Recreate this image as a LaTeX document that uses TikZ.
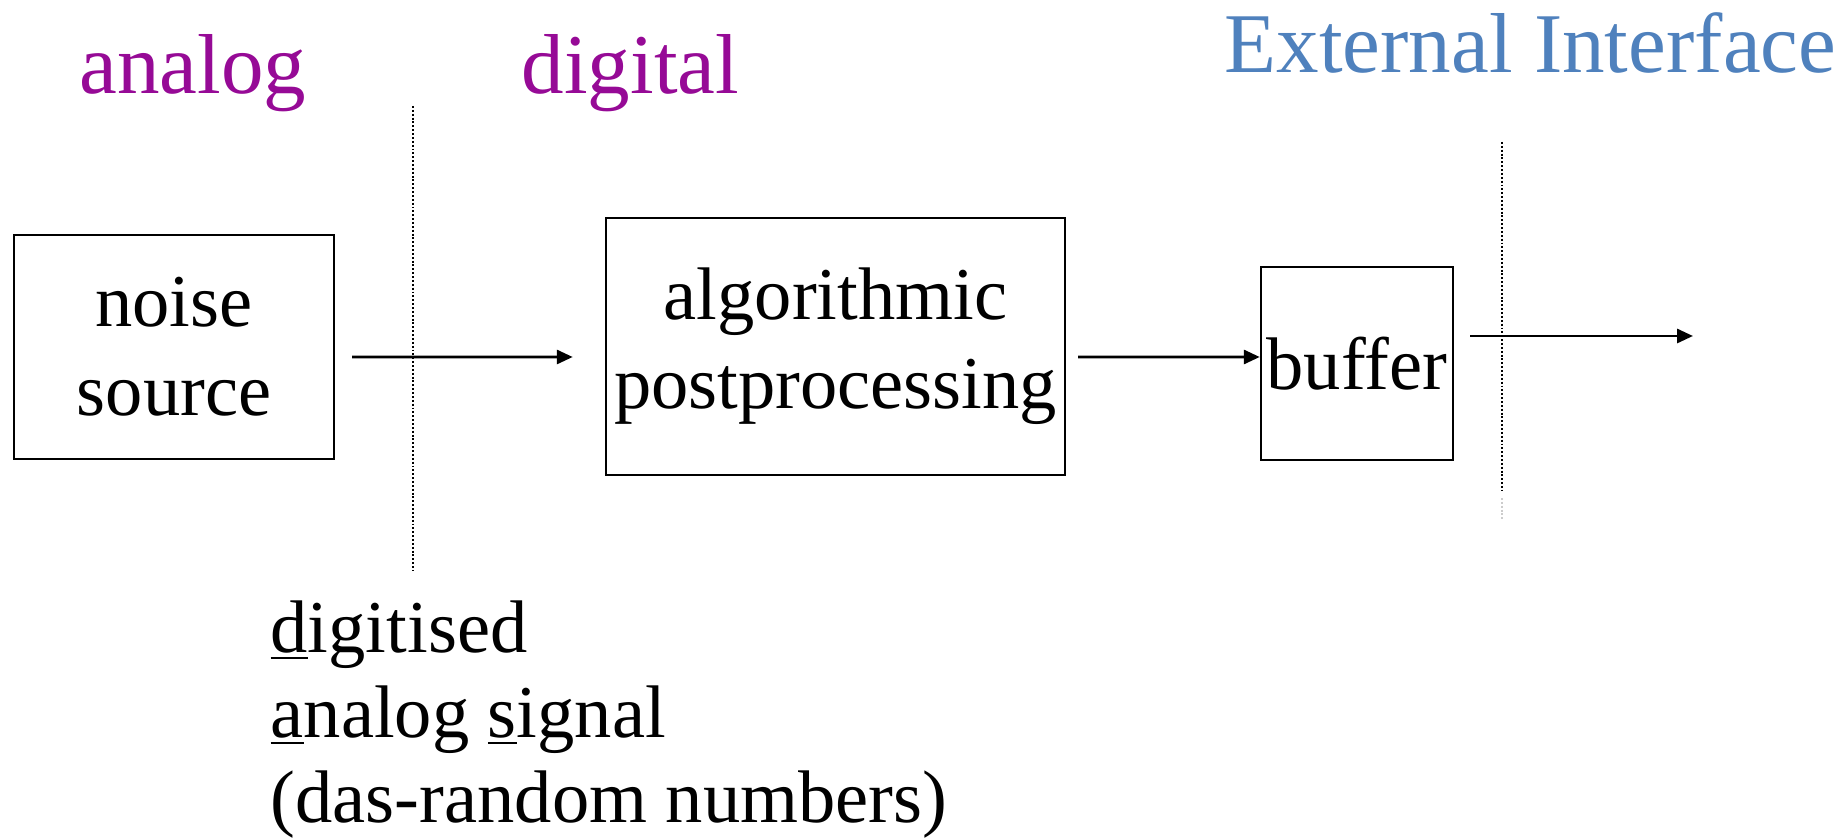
\documentclass[tikz,border=0pt]{standalone}
\usepackage{fontspec}
\setmainfont{Liberation Serif}
\usepackage{tikz}
\usetikzlibrary{arrows.meta, positioning, calc}
\usepackage{xcolor}
\definecolor{zonepurple}{RGB}{150,10,150}
\definecolor{ifblue}{RGB}{79,129,189}

\begin{document}
\begin{tikzpicture}[block/.style={rectangle, draw, line width=0.7pt, inner sep=0pt,
  align=center, font=\fontsize{21.2}{25.3}\selectfont},
  zone/.style={anchor=base west, inner sep=0pt, font=\fontsize{24.2}{28}\selectfont},
  sig/.style={line width=0.85pt, -{Triangle[length=0.16cm, width=0.14cm]}},
  border/.style={line width=0.6pt, dash pattern=on 0.55pt off 0.55pt}]
  \useasboundingbox (0,0) rectangle (18.45,-8.38);

  % region headings
  \node[zone, text=zonepurple] (hana) at (0.79,-0.94) {analog};
  \node[zone, text=zonepurple] (hdig) at (5.21,-0.94) {digital};
  \node[zone, text=ifblue] (hext) at (12.24,-0.73) {External Interface};

  % dotted borders between the regions
  \draw[border] (4.13,-1.06) -- (4.13,-5.71);
  \draw[border] (15.02,-1.42) -- (15.02,-4.90);
  \draw[border, gray!40] (15.02,-4.98) -- (15.02,-5.20);

  % processing chain
  \node[block, minimum width=3.20cm, minimum height=2.24cm] (src) at (1.74,-3.47) {noise\\source};
  \node[block, minimum width=4.59cm, minimum height=2.57cm] (post) at (8.355,-3.465) {algorithmic\\postprocessing};
  \node[block, minimum width=1.92cm, minimum height=1.93cm] (buf) at (13.57,-3.635) {buffer};
  \coordinate (out) at (16.93,-3.36);

  \draw[sig] ([shift={(0.17,-0.10)}]src.east) -- ([shift={(-0.32,-0.105)}]post.west);
  \draw[sig] ([shift={(0.12,-0.105)}]post.east) -- ([yshift=0.065cm]buf.west);
  \draw[sig] ([shift={(0.16,0.275)}]buf.east) -- (out);

  % note below the first border
  \node[anchor=north west, inner sep=0pt, align=left,
    font=\fontsize{21.2}{24.2}\selectfont] (das) at (2.70,-6.00)
    {\underline{d}igitised\\\underline{a}nalog \underline{s}ignal\\(das-random numbers)};
\end{tikzpicture}
\end{document}
